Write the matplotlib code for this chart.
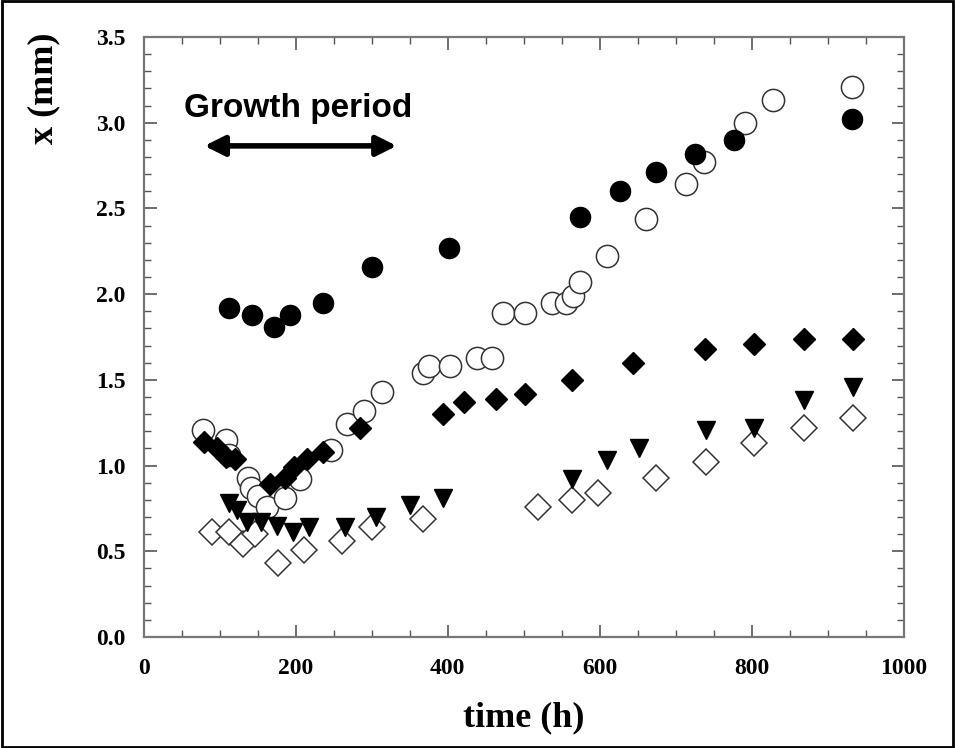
import matplotlib
matplotlib.use("Agg")
import matplotlib.pyplot as plt
from matplotlib.patches import Rectangle
from matplotlib.ticker import MultipleLocator

# filled circles
t_fc = [112, 143, 172, 192, 236, 300, 402, 574, 627, 674, 725, 777, 932]
x_fc = [1.92, 1.88, 1.81, 1.88, 1.95, 2.16, 2.27, 2.45, 2.60, 2.71, 2.82, 2.90, 3.02]

# open circles
t_oc = [78, 109, 112, 138, 141, 151, 162, 186, 206, 247, 267, 290, 314, 368, 375, 403,
        438, 458, 473, 502, 537, 556, 565, 574, 609, 661, 713, 737, 791, 828, 932]
x_oc = [1.21, 1.15, 1.06, 0.93, 0.87, 0.82, 0.76, 0.81, 0.92, 1.09, 1.24, 1.32, 1.43,
        1.54, 1.58, 1.58, 1.63, 1.63, 1.89, 1.89, 1.95, 1.95, 1.99, 2.07, 2.22, 2.44,
        2.64, 2.77, 3.00, 3.13, 3.21]

# filled diamonds
t_fd = [79, 96, 109, 120, 166, 186, 198, 215, 236, 285, 394, 421, 464, 501, 564, 644,
        738, 803, 868, 933]
x_fd = [1.14, 1.10, 1.05, 1.04, 0.89, 0.93, 0.99, 1.04, 1.08, 1.22, 1.30, 1.37, 1.39,
        1.42, 1.50, 1.60, 1.68, 1.71, 1.74, 1.74]

# filled down triangles
t_tr = [112, 123, 136, 155, 175, 197, 217, 265, 306, 350, 394, 564, 609, 652, 739, 803,
        868, 933]
x_tr = [0.78, 0.74, 0.67, 0.67, 0.65, 0.61, 0.64, 0.64, 0.70, 0.77, 0.81, 0.92, 1.03,
        1.10, 1.21, 1.22, 1.38, 1.46]

# open diamonds
t_od = [90, 112, 131, 147, 177, 211, 261, 300, 368, 519, 563, 598, 674, 739, 803, 868, 933]
x_od = [0.61, 0.61, 0.54, 0.60, 0.43, 0.51, 0.56, 0.64, 0.69, 0.76, 0.80, 0.84, 0.93,
        1.02, 1.13, 1.22, 1.28]

serif = "Liberation Serif"

fig = plt.figure(figsize=(9.55, 7.48), dpi=100)
ax = fig.add_axes([0.1503, 0.1484, 0.7963, 0.8021])

ax.plot(t_oc, x_oc, "o", ms=16, mfc="white", mec="#333333", mew=1.1, ls="none", zorder=2)
ax.plot(t_od, x_od, "D", ms=13, mfc="white", mec="#333333", mew=1.1, ls="none", zorder=2)
ax.plot(t_fc, x_fc, "o", ms=14.5, color="black", ls="none", zorder=3)
ax.plot(t_fd, x_fd, "D", ms=11, color="black", ls="none", zorder=3)
ax.plot(t_tr, x_tr, "v", ms=13.5, color="black", ls="none", zorder=3)

ax.set_xlim(0, 1000)
ax.set_ylim(0, 3.5)
ax.xaxis.set_major_locator(MultipleLocator(200))
ax.xaxis.set_minor_locator(MultipleLocator(50))
ax.yaxis.set_major_locator(MultipleLocator(0.5))
ax.yaxis.set_minor_locator(MultipleLocator(0.1))
ax.yaxis.set_major_formatter(matplotlib.ticker.FormatStrFormatter("%.1f"))
ax.tick_params(which="both", direction="in", top=True, right=True, color="#555555")
ax.tick_params(which="major", length=9, width=1.2)
ax.tick_params(which="minor", length=5, width=1)
ax.tick_params(axis="x", which="major", pad=15)
ax.tick_params(axis="y", which="major", pad=13)
for lab in ax.get_xticklabels() + ax.get_yticklabels():
    lab.set_fontfamily(serif)
    lab.set_fontweight("bold")
    lab.set_fontsize(17)
for sp in ax.spines.values():
    sp.set_color("#777777")
    sp.set_linewidth(1.6)

ax.set_xlabel("time (h)", fontfamily=serif, fontweight="bold", fontsize=26)
ax.xaxis.set_label_coords(0.5, -0.108)
ax.set_ylabel("x (mm)", fontfamily=serif, fontweight="bold", fontsize=26)
ax.yaxis.set_label_coords(-0.11, 0.915)

ax.text(203, 3.085, "Growth period", fontfamily="Liberation Sans", fontweight="bold",
        fontsize=24, ha="center", va="center")
ax.annotate("", xy=(80, 2.865), xytext=(333, 2.865),
            arrowprops=dict(arrowstyle="<|-|>", color="black", lw=4, mutation_scale=30,
                            shrinkA=0, shrinkB=0))

fig.patches.append(Rectangle((0.002, 0.002), 0.996, 0.996, transform=fig.transFigure,
                             fill=False, edgecolor="black", lw=2))

fig.savefig("out.png", dpi=100)
